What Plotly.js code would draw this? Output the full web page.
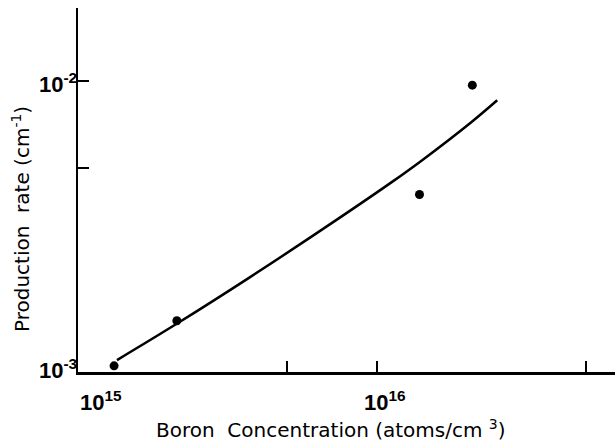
<!DOCTYPE html>
<html>
<head>
<meta charset="utf-8">
<script src="https://cdn.plot.ly/plotly-3.0.1.min.js"></script>
<style>html,body{margin:0;padding:0;background:#fff;}#chart{width:615px;height:444px;}</style>
</head>
<body>
<div id="chart"></div>
<script>
// Measured data points
const pointX = [1.32e15, 2.14e15, 1.385e16, 2.08e16];
const pointY = [1.05e-3, 1.50e-3, 4.07e-3, 9.66e-3];
// Fitted curve
const curveX = [1.350e15, 2.144e15, 3.761e15, 7.126e15, 1.131e16, 1.414e16, 2.063e16, 2.519e16];
const curveY = [1.099e-3, 1.467e-3, 2.118e-3, 3.271e-3, 4.524e-3, 5.340e-3, 7.210e-3, 8.578e-3];
// Axis ticks and labels
const xTickVals = [1e15, 5e15, 1e16, 5e16];
const xLabelVals = [1e15, 1e16];
const xLabels = ['10<sup>15</sup>', '10<sup>16</sup>'];
const yTickVals = [1e-3, 5e-3, 1e-2];
const yLabelVals = [1e-3, 1e-2];
const yLabels = ['10<sup>-3</sup>', '10<sup>-2</sup>'];
const xTitle = 'Boron  Concentration (atoms/cm <sup>3</sup>)';
const yTitle = 'Production  rate (cm<sup>-1</sup>)';

const font = 'DejaVu Sans, Liberation Sans, sans-serif';
const tickFont = {family: 'Liberation Sans, Arial, sans-serif', size: 22, color: '#000', weight: 'bold'};

const traces = [
  {x: curveX, y: curveY, type: 'scatter', mode: 'lines',
   line: {color: '#000', width: 2.5, shape: 'spline', smoothing: 1}, hoverinfo: 'skip'},
  {x: pointX, y: pointY, type: 'scatter', mode: 'markers',
   marker: {color: '#000', size: 9}}
];

const xShift = [23, 8];
const annotations = [];
xLabelVals.forEach((v, i) => annotations.push({
  x: Math.log10(v), y: 0, xref: 'x', yref: 'paper', yanchor: 'top', xanchor: 'center',
  xshift: xShift[i], yshift: -13, text: '<b>' + xLabels[i] + '</b>', showarrow: false, font: tickFont
}));
yLabelVals.forEach((v, i) => annotations.push({
  x: 0, y: Math.log10(v), xref: 'paper', yref: 'y', xanchor: 'right', yanchor: 'middle',
  xshift: 1, yshift: i === 0 ? 3 : -2, text: '<b>' + yLabels[i] + '</b>', showarrow: false, font: tickFont
}));
annotations.push({x: 331, y: 429, xref: 'paper', yref: 'paper', text: xTitle, showarrow: false,
  font: {family: font, size: 20, color: '#000'}});
annotations.push({x: 21, y: 219, xref: 'paper', yref: 'paper', text: yTitle, showarrow: false, textangle: -90,
  font: {family: font, size: 20, color: '#000'}});
// convert pixel positions for titles to paper coords
const L = 78, R = 0, T = 8, B = 72, W = 615, H = 444;
annotations.slice(-2).forEach(a => {
  a.x = (a.x - L) / (W - L - R);
  a.y = (H - B - a.y) / (H - T - B);
  a.xanchor = 'center'; a.yanchor = 'middle';
});

const layout = {
  width: W, height: H,
  margin: {l: L, r: R, t: T, b: B},
  paper_bgcolor: '#fff', plot_bgcolor: '#fff',
  showlegend: false,
  xaxis: {type: 'log', range: [15, 16.795], tickvals: xTickVals, showticklabels: false,
    ticks: 'inside', ticklen: 11, tickwidth: 2, tickcolor: '#000',
    showline: true, linecolor: '#000', linewidth: 2.5, showgrid: false, zeroline: false},
  yaxis: {type: 'log', range: [-3, -1.75], tickvals: yTickVals, showticklabels: false,
    ticks: 'inside', ticklen: 11, tickwidth: 2, tickcolor: '#000',
    showline: true, linecolor: '#000', linewidth: 2.5, showgrid: false, zeroline: false},
  annotations: annotations
};

Plotly.newPlot('chart', traces, layout, {displayModeBar: false, staticPlot: true});
</script>
</body>
</html>
